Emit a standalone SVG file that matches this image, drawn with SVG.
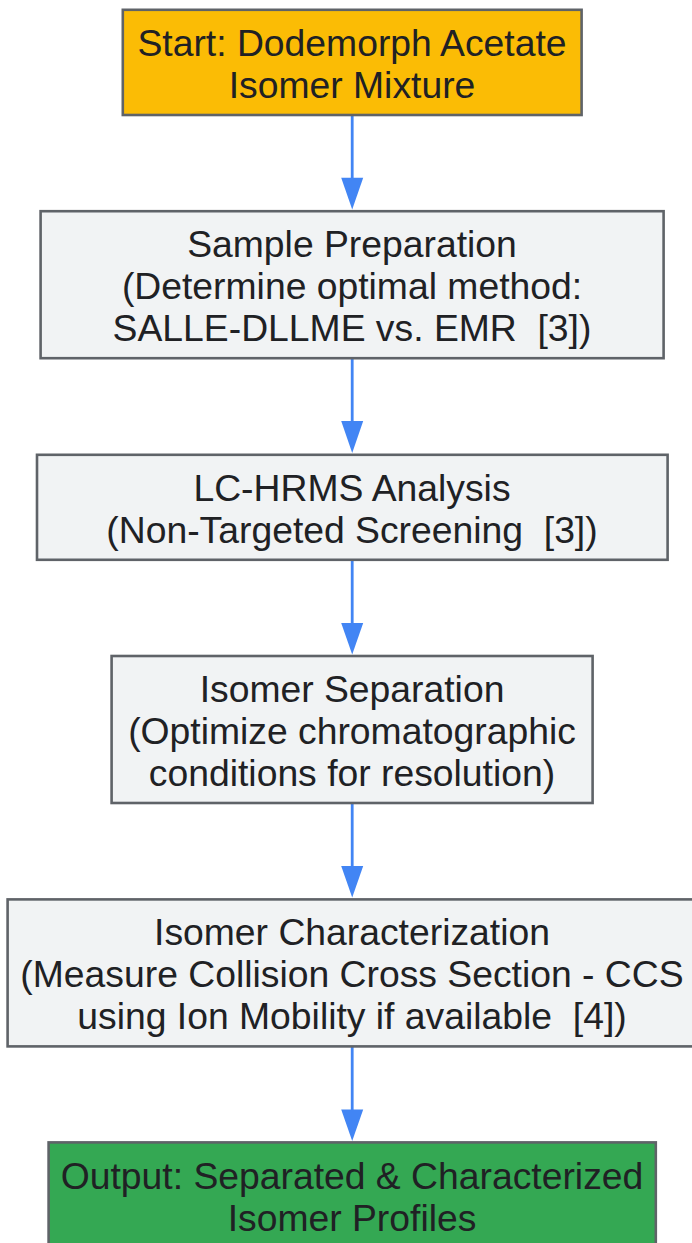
<svg xmlns="http://www.w3.org/2000/svg" width="692" height="1243" viewBox="0 0 692 1243">
<style>
.n{stroke:#5F6368;stroke-width:2.6}
.g{fill:#F1F3F4}
text{font-family:"Liberation Sans",Arial,sans-serif;font-size:37.3px;fill:#202124;text-anchor:middle;white-space:pre}
.e{stroke:#4285F4;stroke-width:2.8;fill:none}
.a{fill:#4285F4}
</style>
<rect width="692" height="1243" fill="#FFFFFF"/>
<g id="connectors">
<path class="e" d="M352.2 115V180"/><path class="a" d="M341.2 177.8H363.2L352.2 209.5Z"/>
<path class="e" d="M352.2 358V423"/><path class="a" d="M341.2 421H363.2L352.2 453Z"/>
<path class="e" d="M352.2 560V625"/><path class="a" d="M341.2 623H363.2L352.2 654.5Z"/>
<path class="e" d="M352.2 803V868"/><path class="a" d="M341.2 866H363.2L352.2 897.5Z"/>
<path class="e" d="M352.2 1047V1112"/><path class="a" d="M341.2 1109.5H363.2L352.2 1141Z"/>
</g>
<g id="start"><rect class="n" x="122.8" y="9.8" width="458.8" height="105.2" fill="#FBBC05"/><text x="352" y="56">Start: Dodemorph Acetate</text><text x="352" y="98">Isomer Mixture</text></g>
<g id="prep"><rect class="n g" x="40.6" y="211.2" width="623" height="147"/><text x="352" y="257">Sample Preparation</text><text x="352" y="299">(Determine optimal method:</text><text x="352" y="341">SALLE-DLLME vs. EMR  [3])</text></g>
<g id="lchrms"><rect class="n g" x="37" y="454.8" width="630.6" height="105"/><text x="352" y="501">LC-HRMS Analysis</text><text x="352" y="543">(Non-Targeted Screening  [3])</text></g>
<g id="separation"><rect class="n g" x="111.6" y="656" width="481" height="147"/><text x="352" y="702">Isomer Separation</text><text x="352" y="744">(Optimize chromatographic</text><text x="352" y="786">conditions for resolution)</text></g>
<g id="characterization"><rect class="n g" x="7.6" y="899.4" width="689" height="147"/><text x="352" y="945">Isomer Characterization</text><text x="352" y="987">(Measure Collision Cross Section - CCS</text><text x="352" y="1029">using Ion Mobility if available  [4])</text></g>
<g id="output"><rect class="n" x="48.6" y="1142.4" width="607.2" height="110" fill="#34A853"/><text x="352" y="1189">Output: Separated &amp; Characterized</text><text x="352" y="1231">Isomer Profiles</text></g>
</svg>
